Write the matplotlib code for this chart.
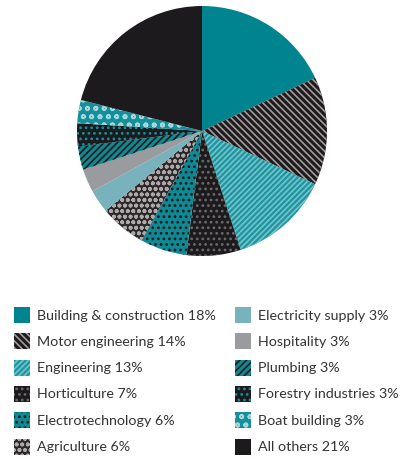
import matplotlib
matplotlib.use('Agg')
import matplotlib.pyplot as plt
from matplotlib.patches import Rectangle

plt.rcParams['font.family'] = ['Lato', 'DejaVu Sans']
plt.rcParams['hatch.linewidth'] = 1.2

sectors = ['Building & construction', 'Motor engineering', 'Engineering',
           'Horticulture', 'Electrotechnology', 'Agriculture',
           'Electricity supply', 'Hospitality', 'Plumbing',
           'Forestry industries', 'Boat building', 'All others']
shares = [18, 14, 13, 7, 6, 6, 3, 3, 3, 3, 3, 21]

# fill colour, hatch pattern, hatch colour for each sector
base_colors = ['#00848f', '#1c1a1d', '#1c96a1', '#1c1a1d', '#0f8993', '#2a282b',
               '#78b2bd', '#9a9b9e', '#0f8993', '#1c1a1d', '#13909c', '#1c1a1d']
hatches = [None, '\\\\\\\\\\', '//////', '...', '...', 'ooo',
           None, None, '/////', '...', 'oo', None]
hatch_colors = ['#00848f', '#a49c9c', '#78c3ca', '#6a6a6a', '#1c1a1d', '#b0a8a8',
                '#78b2bd', '#9a9b9e', '#1c1a1d', '#13909c', '#a8d6db', '#1c1a1d']

fig = plt.figure(figsize=(4.03, 4.59), dpi=100)
W, H = 403, 459

# pie: centre (202, 131) px, radius 125 px
ax = fig.add_axes([77 / W, (H - 256) / H, 250 / W, 250 / H])
wedges, _ = ax.pie(shares, startangle=90, counterclock=False, radius=1)
for w, fc, hp, hc in zip(wedges, base_colors, hatches, hatch_colors):
    w.set_facecolor(fc)
    w.set_edgecolor(hc)
    w.set_linewidth(0)
    if hp:
        w.set_hatch(hp)
ax.set_xlim(-1, 1)
ax.set_ylim(-1, 1)
ax.set_aspect('equal')
ax.axis('off')

# legend, two columns of six
lax = fig.add_axes([0, 0, 1, 1])
lax.set_xlim(0, W)
lax.set_ylim(H, 0)
lax.axis('off')
col_x = [14, 235]
for i, (name, val) in enumerate(zip(sectors, shares)):
    col, row = divmod(i, 6)
    yc = 315 + row * 26.3
    sq = Rectangle((col_x[col], yc - 8), 16, 16, facecolor=base_colors[i],
                   edgecolor=hatch_colors[i], linewidth=0,
                   hatch=hatches[i])
    lax.add_patch(sq)
    lax.text(col_x[col] + 23, yc + 0.5, f'{name} {val}%', va='center',
             ha='left', fontsize=10.3, color='#333335')

fig.savefig('out.png', dpi=100)
